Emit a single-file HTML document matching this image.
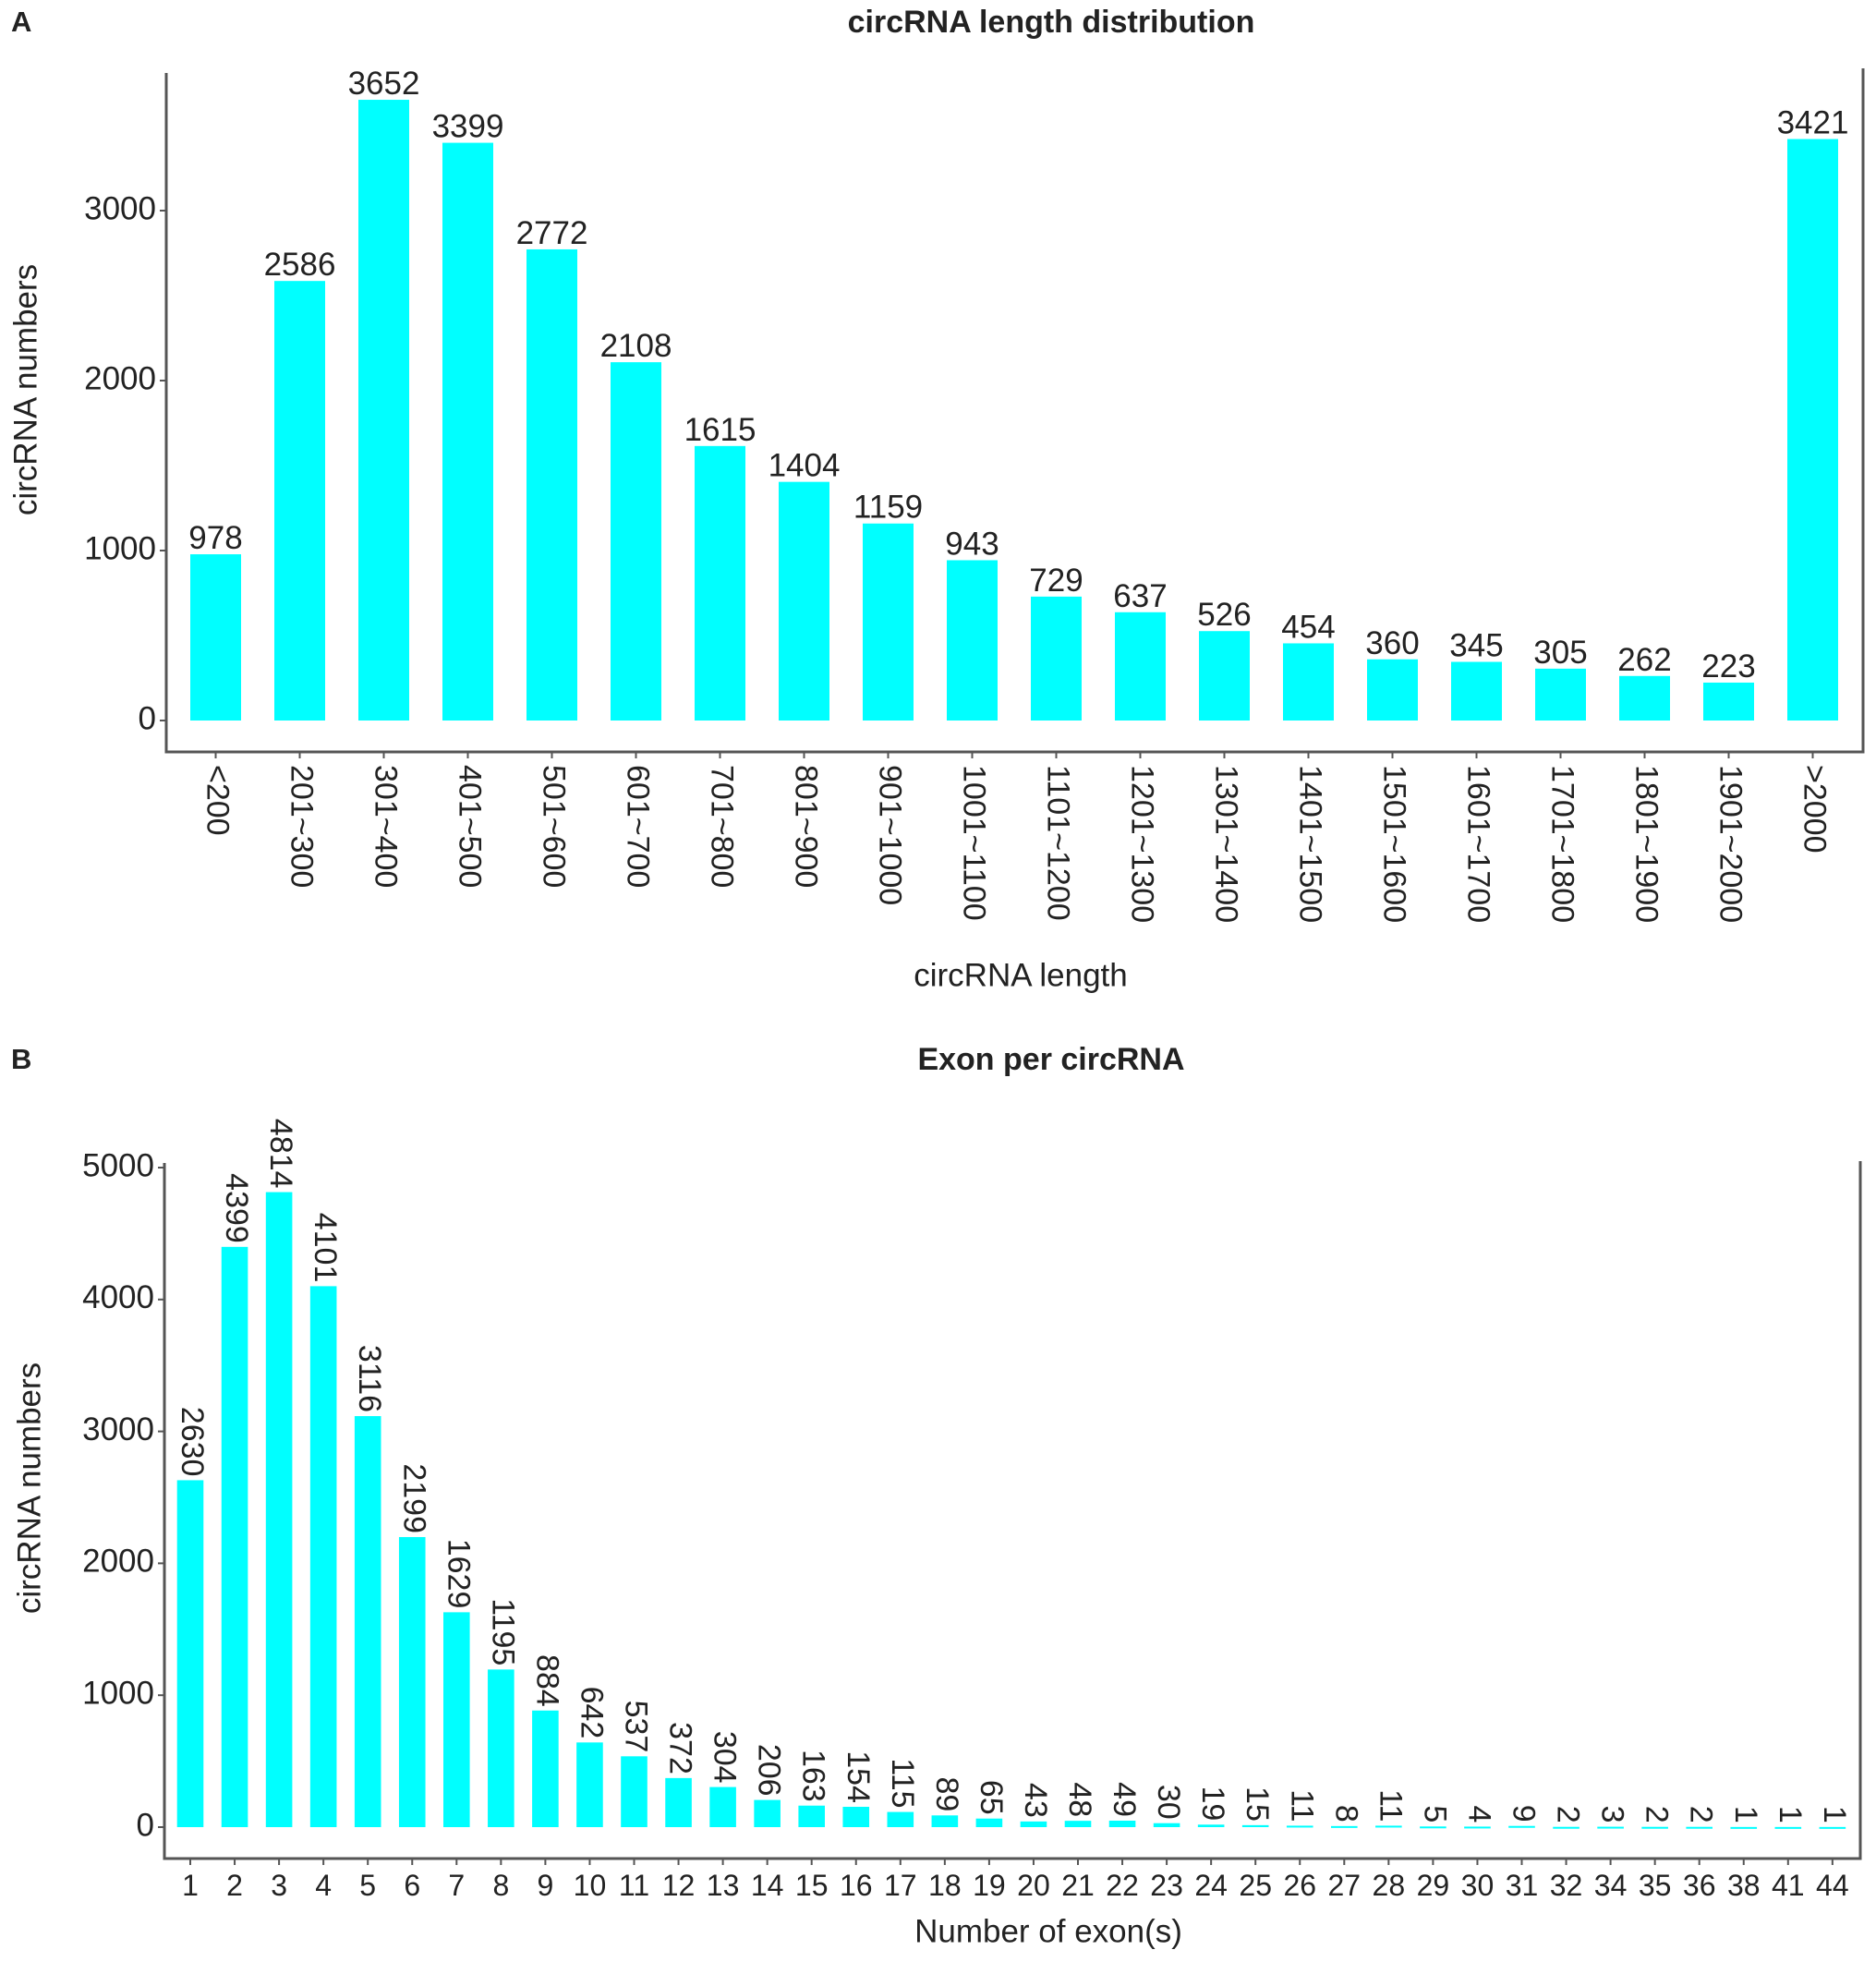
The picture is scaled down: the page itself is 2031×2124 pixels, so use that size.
<!DOCTYPE html>
<html><head><meta charset="utf-8"><style>
html,body{margin:0;padding:0;background:#fff;}
svg{display:block;font-family:"Liberation Sans",Arial,sans-serif;}
</style></head><body>
<svg id="fig" width="2031" height="2124" viewBox="0 0 2031 2124" xmlns="http://www.w3.org/2000/svg">
<rect width="2031" height="2124" fill="#fff"/>
<g id="gA"></g>
<g id="gB"></g>
</svg>
<script>
const catsA = ["<200","201~300","301~400","401~500","501~600","601~700","701~800","801~900","901~1000","1001~1100","1101~1200","1201~1300","1301~1400","1401~1500","1501~1600","1601~1700","1701~1800","1801~1900","1901~2000",">2000"];
const valsA = [978,2586,3652,3399,2772,2108,1615,1404,1159,943,729,637,526,454,360,345,305,262,223,3421];
const ticksA = [0,1000,2000,3000];
const catsB = ["1","2","3","4","5","6","7","8","9","10","11","12","13","14","15","16","17","18","19","20","21","22","23","24","25","26","27","28","29","30","31","32","34","35","36","38","41","44"];
const valsB = [2630,4399,4814,4101,3116,2199,1629,1195,884,642,537,372,304,206,163,154,115,89,65,43,48,49,30,19,15,11,8,11,5,4,9,2,3,2,2,1,1,1];
const ticksB = [0,1000,2000,3000,4000,5000];

const NS="http://www.w3.org/2000/svg";
function mk(parent,tag,attrs,text){const e=document.createElementNS(NS,tag);for(const k in attrs)e.setAttribute(k,attrs[k]);if(text!==undefined)e.textContent=text;parent.appendChild(e);return e;}

function panel(g,cfg){
  const yS=v=>cfg.y0-v*cfg.pxPer;
  const xS=i=>cfg.x0+i*cfg.step;
  let t;
  t=mk(g,"text",{x:cfg.letterX,y:cfg.letterY,"font-size":31,"font-weight":"bold",fill:"#222","dominant-baseline":"middle"},cfg.letter);
  
  
  t=mk(g,"text",{x:1138,y:cfg.letterY,"font-size":34,"font-weight":"bold",fill:"#222","text-anchor":"middle","dominant-baseline":"middle"},cfg.title);
  
  
  let l=mk(g,"line",{x1:cfg.axL,y1:cfg.axTop,x2:cfg.axL,y2:cfg.axB+1.5,stroke:"#555","stroke-width":3});
  
  
  l=mk(g,"line",{x1:cfg.axL,y1:cfg.axB,x2:cfg.axR,y2:cfg.axB,stroke:"#555","stroke-width":3});
  
  
  l=mk(g,"line",{x1:cfg.axR,y1:cfg.axTopR,x2:cfg.axR,y2:cfg.axB+1.5,stroke:"#555","stroke-width":3});
  
  
  cfg.ticks.forEach(v=>{
    const y=yS(v);
    const tk=mk(g,"line",{x1:cfg.axL-7,y1:y,x2:cfg.axL,y2:y,stroke:"#555","stroke-width":2});
    
    
    const tl=mk(g,"text",{x:cfg.axL-11,y:y,"font-size":35,fill:"#222","text-anchor":"end","dominant-baseline":"middle"},String(v));
    
    
  });
  cfg.cats.forEach((c,i)=>{
    const cx=xS(i), v=cfg.vals[i], top=yS(v);
    const b=mk(g,"rect",{x:cx-cfg.bw/2,y:top,width:cfg.bw,height:Math.max(cfg.y0-top,2),fill:"#00FFFF"});
    
    
    const tk=mk(g,"line",{x1:cx,y1:cfg.axB,x2:cx,y2:cfg.axB+7,stroke:"#555","stroke-width":2});
    
    
    let lab;
    if(cfg.rotX){
      lab=mk(g,"text",{x:0,y:0,"font-size":34,fill:"#222","text-anchor":"start","dominant-baseline":"middle",transform:`translate(${cx},${cfg.axB+14}) rotate(90)`},c);
    } else {
      lab=mk(g,"text",{x:cx,y:cfg.axB+40,"font-size":32,fill:"#222","text-anchor":"middle"},c);
    }
    
    
    let vl;
    if(cfg.rotV){
      vl=mk(g,"text",{x:0,y:0,"font-size":34,fill:"#222","text-anchor":"end","dominant-baseline":"middle",transform:`translate(${cx},${top-4}) rotate(90)`},String(v));
    } else {
      vl=mk(g,"text",{x:cx,y:top-6,"font-size":35,fill:"#222","text-anchor":"middle"},String(v));
    }
    
    
  });
  t=mk(g,"text",{x:0,y:0,"font-size":35,fill:"#222","text-anchor":"middle","dominant-baseline":"middle",transform:`translate(${cfg.yTitleX},${cfg.yTitleY}) rotate(-90)`},"circRNA numbers");
  
  
  t=mk(g,"text",{x:cfg.xTitleX,y:cfg.xTitleY,"font-size":35,fill:"#222","text-anchor":"middle","dominant-baseline":"middle"},cfg.xTitle);
  
  
}

panel(document.getElementById("gA"),{letter:"A",letterX:12,letterY:26,title:"circRNA length distribution",
  cats:catsA,vals:valsA,ticks:ticksA,y0:780,pxPer:0.184,x0:233.5,step:91,bw:55,
  axL:180,axR:2017,axTop:79,axTopR:74,axB:814,rotX:true,rotV:false,
  yTitleX:30,yTitleY:422,xTitle:"circRNA length",xTitleX:1105,xTitleY:1058});
panel(document.getElementById("gB"),{letter:"B",letterX:12,letterY:1149,title:"Exon per circRNA",
  cats:catsB,vals:valsB,ticks:ticksB,y0:1978,pxPer:0.1428,x0:206,step:48.05,bw:28.6,
  axL:178,axR:2014,axTop:1259,axTopR:1257,axB:2012,rotX:false,rotV:true,
  yTitleX:34,yTitleY:1611,xTitle:"Number of exon(s)",xTitleX:1135,xTitleY:2093});
</script>
</body></html>
